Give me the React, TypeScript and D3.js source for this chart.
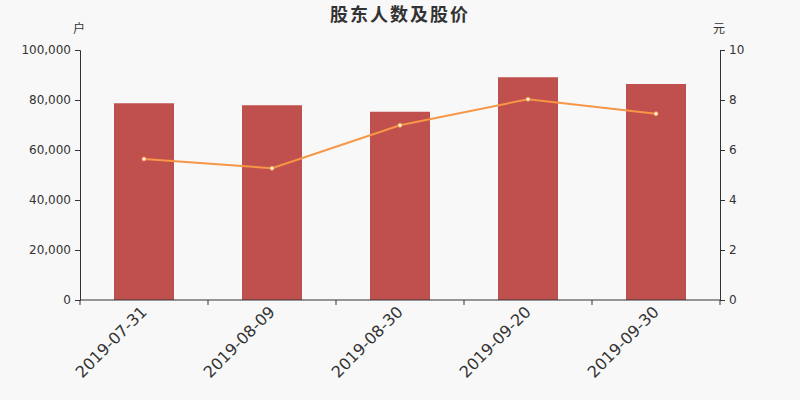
import React, { useEffect, useRef } from 'react';
import * as d3 from 'd3';

const dates = ['2019-07-31', '2019-08-09', '2019-08-30', '2019-09-20', '2019-09-30'];
const holders = [78700, 77900, 75300, 89100, 86400];
const prices = [5.64, 5.27, 6.99, 8.03, 7.45];
const leftTicks = [0, 20000, 40000, 60000, 80000, 100000];
const rightTicks = [0, 2, 4, 6, 8, 10];

const W = 800;
const H = 400;
const margin = { top: 50, right: 80, bottom: 100, left: 80 };
const FONT = '"DejaVu Sans", "Noto Sans CJK SC", sans-serif';

export default function App() {
  const svgRef = useRef<SVGSVGElement>(null);

  useEffect(() => {
    if (!svgRef.current) return;
    const svg = d3.select(svgRef.current);
    svg.selectAll('*').remove();

    svg.append('rect').attr('width', W).attr('height', H).attr('fill', '#f8f8f8');

    const x = d3.scaleBand<string>()
      .domain(dates)
      .range([margin.left, W - margin.right])
      .paddingInner(0)
      .paddingOuter(0);
    const yL = d3.scaleLinear().domain([0, 100000]).range([H - margin.bottom, margin.top]);
    const yR = d3.scaleLinear().domain([0, 10]).range([H - margin.bottom, margin.top]);
    const barW = 60;

    // title
    svg.append('text')
      .attr('x', W / 2).attr('y', 21)
      .attr('text-anchor', 'middle')
      .attr('font-family', '"Noto Sans CJK SC", sans-serif')
      .attr('font-size', 18).attr('font-weight', 'bold')
      .attr('letter-spacing', 2)
      .attr('fill', '#333')
      .text('股东人数及股价');

    svg.append('text').attr('x', 79).attr('y', 33).attr('text-anchor', 'middle')
      .attr('font-family', FONT).attr('font-size', 12).attr('fill', '#333').text('户');
    svg.append('text').attr('x', 719).attr('y', 33).attr('text-anchor', 'middle')
      .attr('font-family', FONT).attr('font-size', 12).attr('fill', '#333').text('元');

    // bars
    svg.append('g').selectAll('rect').data(holders).join('rect')
      .attr('x', (_, i) => x(dates[i])! + x.bandwidth() / 2 - barW / 2)
      .attr('y', d => yL(d))
      .attr('width', barW)
      .attr('height', d => yL(0) - yL(d))
      .attr('fill', '#c0504d');

    // line
    const line = d3.line<number>()
      .x((_, i) => x(dates[i])! + x.bandwidth() / 2)
      .y(d => yR(d));
    svg.append('path').datum(prices)
      .attr('d', line)
      .attr('fill', 'none')
      .attr('stroke', '#f79646')
      .attr('stroke-width', 2);
    svg.append('g').selectAll('circle').data(prices).join('circle')
      .attr('cx', (_, i) => x(dates[i])! + x.bandwidth() / 2)
      .attr('cy', d => yR(d))
      .attr('r', 2)
      .attr('fill', '#fff')
      .attr('stroke', '#f79646')
      .attr('stroke-width', 1);

    // left axis
    const gL = svg.append('g').attr('transform', `translate(${margin.left},0)`)
      .call(d3.axisLeft(yL).tickValues(leftTicks).tickSize(5).tickPadding(4)
        .tickFormat(d => d3.format(',')(d as number)));
    gL.selectAll('text').attr('font-family', FONT).attr('font-size', 12).attr('fill', '#333');
    gL.selectAll('line, path').attr('stroke', '#333');

    // right axis
    const gR = svg.append('g').attr('transform', `translate(${W - margin.right},0)`)
      .call(d3.axisRight(yR).tickValues(rightTicks).tickSize(5).tickPadding(4));
    gR.selectAll('text').attr('font-family', FONT).attr('font-size', 12).attr('fill', '#333');
    gR.selectAll('line, path').attr('stroke', '#333');

    // bottom axis
    const gB = svg.append('g').attr('transform', `translate(0,${H - margin.bottom})`);
    gB.append('line')
      .attr('x1', margin.left).attr('x2', W - margin.right)
      .attr('stroke', '#333');
    const edges = dates.map(d => x(d)!).concat([x(dates[dates.length - 1])! + x.bandwidth()]);
    gB.selectAll('line.tick').data(edges).join('line')
      .attr('class', 'tick')
      .attr('x1', d => d).attr('x2', d => d)
      .attr('y1', 0).attr('y2', 5)
      .attr('stroke', '#333');
    gB.selectAll('text').data(dates).join('text')
      .attr('transform', d => `translate(${x(d)! + x.bandwidth() / 2},${9}) rotate(-45)`)
      .attr('text-anchor', 'end')
      .attr('dy', '0.35em')
      .attr('font-family', FONT).attr('font-size', 16).attr('fill', '#333')
      .text(d => d);
  }, []);

  return (
    <svg
      ref={svgRef}
      width={W}
      height={H}
      style={{ display: 'block', position: 'fixed', left: 0, top: 0 }}
    />
  );
}
